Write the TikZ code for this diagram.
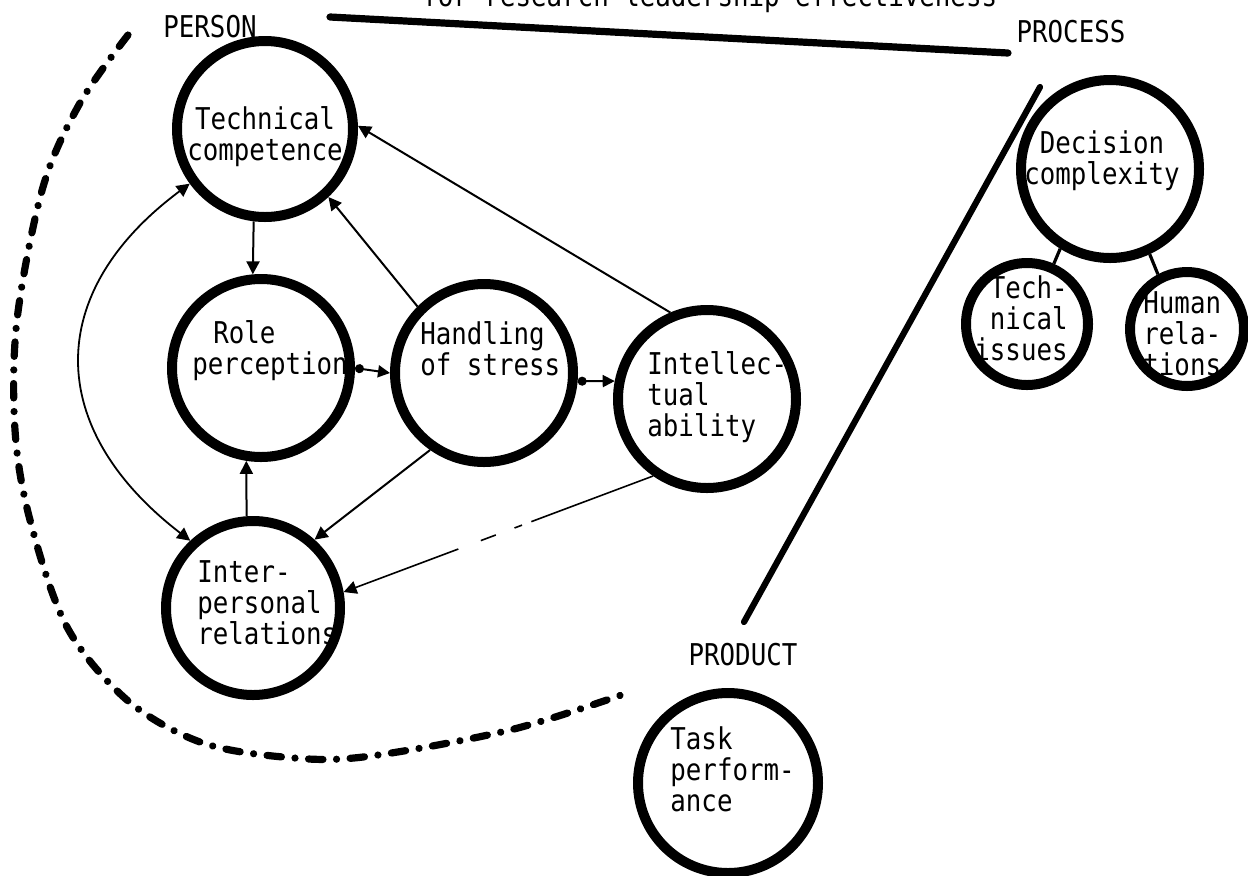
\documentclass[tikz,border=0pt]{standalone}
\usepackage{fontspec}
\newfontfamily\tw[FakeStretch=0.86]{DejaVu Sans Mono}
\usetikzlibrary{arrows.meta}
\begin{document}
\begin{tikzpicture}[x=0.5pt,y=-0.5pt,
  bub/.style={circle, draw, line width=5pt, inner sep=0pt, minimum size=#1},
  txt/.style={font={\tw\fontsize{15}{15.6}\selectfont}, inner sep=0pt},
  arr/.style={line width=1pt, -{Triangle[length=6.5pt,width=6.5pt]}},
  darr/.style={line width=1pt, {Circle[length=4.5pt]}-{Triangle[length=6pt,width=6pt]}},
  biarr/.style={line width=0.9pt, {Triangle[length=6.5pt,width=6.5pt]}-{Triangle[length=6.5pt,width=6.5pt]}},
  heavy/.style={line width=3.6pt, line cap=round},
  ddash/.style={line width=3.6pt, line cap=round, dash pattern=on 7.2pt off 6.8pt on 0.01pt off 6.8pt},
  sub/.style={line width=1.6pt}]
\fill[white] (0,0) rectangle (1248,875);
\useasboundingbox (0,0) rectangle (1248,875);

% title (cut off at the top edge, as in the source)
\node[txt, anchor=base west] (title) at (422,6) {for research leadership effectiveness};
\node[txt] (person) at (210,27) {PERSON};
\node[txt] (process) at (1071,32) {PROCESS};
\node[txt] (product) at (743,655) {PRODUCT};

% circles
\node[bub=88pt] (tc) at (265,129) {};
\node[bub=89pt] (rp) at (261,368) {};
\node[bub=89pt] (hs) at (484,373) {};
\node[bub=89pt] (ia) at (707,399) {};
\node[bub=87pt] (ip) at (253,608) {};
\node[bub=89pt] (dc) at (1110,169) {};
\node[bub=61pt] (ti) at (1027,324) {};
\node[bub=57pt] (hr) at (1187,329) {};
\node[bub=90pt] (tp) at (728,783) {};

% circle texts
\node[txt, align=center, anchor=north] (tct) at (265,106) {Technical\\competence};
\node[txt, align=left, anchor=north west] (rpt) at (192,320) {\hspace*{10.5pt}Role\\perception};
\node[txt, align=left, anchor=north west] (hst) at (420,321) {Handling\\of stress};
\node[txt, align=left, anchor=north west] (iat) at (647,351) {Intellec-\\tual\\ability};
\node[txt, align=left, anchor=north west] (ipt) at (197,560) {Inter-\\personal\\relations};
\node[txt, align=center, anchor=north] (dct) at (1102,130) {Decision\\complexity};
\node[txt, align=right, anchor=north east] (tit) at (1068,275) {Tech-\\nical\\issues};
\node[txt, align=left, anchor=north west] (hrt) at (1143,291) {Human\\rela-\\tions};
\node[txt, align=left, anchor=north west] (tpt) at (670,726) {Task\\perform-\\ance};

% connectors
\draw[arr] (tc.263) -- (rp.95);
\draw[arr] (hs.135) -- (tc.313);
\draw[arr] (ia.113) -- (tc.2);
\draw[darr] (rp.east) -- (hs.west);
\draw[darr] (hs.-5) -- (ia.169);
\draw[arr] (hs.235) -- (ip.48);
\draw[arr] (ip.94) -- (rp.261);
\draw[arr, line width=0.8pt, dash pattern=on 65pt off 5pt on 4pt off 10pt on 8pt off 12pt on 80pt] (ia.235) -- (ip.10);
\draw[biarr] (tc.216) .. controls (44,292) and (44,428) .. (ip.133);
\draw[sub] (dc.238) -- (ti.66);
\draw[sub] (dc.295) -- (hr.118);

% heavy separating lines
\coordinate (t1) at (330,17);
\coordinate (t2) at (1008,53);
\draw[heavy] (t1) -- (t2);
\coordinate (d1) at (1040,87);
\coordinate (d2) at (744,622);
\draw[heavy, line width=3.1pt] (d1) -- (d2);

% dash-dot boundary of PERSON
\draw[ddash] plot[smooth, tension=0.55] coordinates {(128,35) (80,103) (43,187) (17,320) (15,430) (30,520) (67,627) (127,700) (200,742) (283,757) (363,757) (510,730) (627,693)};
\end{tikzpicture}
\end{document}
